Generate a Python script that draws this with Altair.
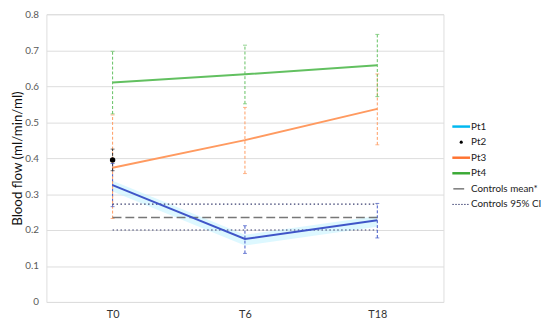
import altair as alt
import pandas as pd

times = ["T0", "T6", "T18"]

pt1 = [0.325, 0.175, 0.227]
pt1_lo = [0.265, 0.135, 0.178]
pt1_hi = [0.385, 0.212, 0.274]

pt2_time = ["T0"]
pt2 = [0.395]
pt2_lo = [0.365]
pt2_hi = [0.425]

pt3 = [0.373, 0.450, 0.537]
pt3_lo = [0.232, 0.357, 0.437]
pt3_hi = [0.520, 0.541, 0.634]

pt4 = [0.610, 0.633, 0.658]
pt4_lo = [0.523, 0.551, 0.571]
pt4_hi = [0.697, 0.714, 0.744]

ctrl_mean = 0.235
ctrl_ci = [0.200, 0.272]

y_ticks = [0, 0.1, 0.2, 0.3, 0.4, 0.5, 0.6, 0.7, 0.8]
legend_labels = ["Pt1", "Pt2", "Pt3", "Pt4", "Controls mean*", "Controls 95% CI"]

FONT = "Lato"
BLUE = "#4a6fdc"
CYAN = "#00b8f0"
ORANGE = "#ff7330"
GREEN = "#3aa935"

rows = []
for name, vals, lo, hi in [("Pt1", pt1, pt1_lo, pt1_hi), ("Pt3", pt3, pt3_lo, pt3_hi), ("Pt4", pt4, pt4_lo, pt4_hi)]:
    for t, v, l, h in zip(times, vals, lo, hi):
        rows.append({"series": name, "time": t, "value": v, "lo": l, "hi": h})
df = pd.DataFrame(rows)
df2 = pd.DataFrame({"series": "Pt2", "time": pt2_time, "value": pt2, "lo": pt2_lo, "hi": pt2_hi})
df_all = pd.concat([df, df2])

band_df = pd.DataFrame({"time": times, "lo": [v - 0.018 for v in pt1], "hi": [v + 0.012 for v in pt1]})

ctrl_df = pd.DataFrame({
    "kind": ["mean", "ci_lo", "ci_hi"],
    "y": [ctrl_mean, ctrl_ci[0], ctrl_ci[1]],
    "x": [times[0]] * 3,
    "x2": [times[-1]] * 3,
})

xscale = alt.Scale(type="point", domain=times, padding=0.5)
yscale = alt.Scale(domain=[0, 0.8], nice=False)

x_axis = alt.Axis(title=None, labelAngle=0, domain=False, ticks=False, grid=False,
                  labelFont=FONT, labelFontSize=11, labelColor="#333333", labelPadding=7)
y_axis = alt.Axis(title="Blood flow (ml/min/ml)", values=y_ticks, tickCount=9,
                  format="~g", domain=False, ticks=False, grid=True, gridColor="#dcdcdc",
                  labelOverlap=False,
                  labelFont=FONT, labelFontSize=10, labelColor="#595959", labelPadding=8,
                  titleFont=FONT, titleFontSize=13.5, titleFontWeight="normal", titleColor="#111111",
                  titleX=-29, titleY=146, titleAngle=-90, titleAlign="center", titleBaseline="middle")


def X(field="time:N"):
    return alt.X(field, scale=xscale, sort=times, axis=x_axis)


def Y(field):
    return alt.Y(field, scale=yscale, axis=y_axis)


series_dom = ["Pt1", "Pt2", "Pt3", "Pt4"]
line_col = alt.Color("series:N", scale=alt.Scale(domain=series_dom, range=[BLUE, "#000000", ORANGE, GREEN]), legend=None)
err_col = alt.Color("series:N", scale=alt.Scale(domain=series_dom, range=["#3f55c8", "#333333", "#ff9a60", "#62c060"]), legend=None)

band = alt.Chart(band_df).mark_area(color="#c6f4ff", opacity=0.6).encode(
    x=X(), y=Y("lo:Q"), y2="hi:Q")

base = alt.Chart(df_all)
err = base.mark_rule(strokeDash=[3, 2], strokeWidth=1).encode(
    x=X(), y=Y("lo:Q"), y2="hi:Q", color=err_col)
cap_lo = base.mark_tick(size=4, thickness=1, orient="horizontal").encode(
    x=X(), y=Y("lo:Q"), color=err_col)
cap_hi = base.mark_tick(size=4, thickness=1, orient="horizontal").encode(
    x=X(), y=Y("hi:Q"), color=err_col)

ctrl_base = alt.Chart(ctrl_df)
ctrl_mean_rule = ctrl_base.transform_filter(alt.datum.kind == "mean").mark_rule(
    color="#777777", strokeWidth=1.5, strokeDash=[9, 4]).encode(
    x=X("x:N"), x2="x2:N", y=Y("y:Q"))
ctrl_ci_rule = ctrl_base.transform_filter(alt.datum.kind != "mean").mark_rule(
    color="#3a3f70", strokeWidth=1.2, strokeDash=[1.5, 2.5]).encode(
    x=X("x:N"), x2="x2:N", y=Y("y:Q"))

lines = alt.Chart(df).mark_line(strokeWidth=2).encode(x=X(), y=Y("value:Q"), color=line_col, detail="series:N")
dot = alt.Chart(df2).mark_point(filled=True, size=30, color="#000000", opacity=1).encode(
    x=X(), y=Y("value:Q"))

# manual legend
leg_layers = []
lx0, lx1, tx = 412, 430, 431
y0, dy = 114, 15.8
styles = ["line", "dot", "line", "line", "short", "dotted"]
colors = [CYAN, "#000000", ORANGE, GREEN, "#777777", "#3a3f70"]
for i, (lab, kind, col) in enumerate(zip(legend_labels, styles, colors)):
    yy = y0 + i * dy
    src = alt.Chart(pd.DataFrame({"label": [lab]}))
    if kind == "line":
        leg_layers.append(src.mark_rule(color=col, strokeWidth=2.5).encode(
            x=alt.value(lx0), x2=alt.value(lx1), y=alt.value(yy)))
    elif kind == "dot":
        leg_layers.append(src.mark_circle(color=col, size=10, opacity=1).encode(
            x=alt.value((lx0 + lx1) / 2), y=alt.value(yy)))
    elif kind == "short":
        leg_layers.append(src.mark_rule(color=col, strokeWidth=1.5).encode(
            x=alt.value(lx0 + 1), x2=alt.value(lx0 + 12), y=alt.value(yy)))
    else:
        leg_layers.append(src.mark_rule(color=col, strokeWidth=1, strokeDash=[1.5, 1.5]).encode(
            x=alt.value(lx0), x2=alt.value(lx1), y=alt.value(yy)))
    leg_layers.append(src.mark_text(align="left", baseline="middle", font=FONT, fontSize=10,
                                    color="#222222").encode(
        x=alt.value(tx), y=alt.value(yy), text="label:N"))

chart = alt.layer(band, err, cap_lo, cap_hi, ctrl_mean_rule, ctrl_ci_rule, lines, dot, *leg_layers).properties(
    width=403, height=292,
    autosize=alt.AutoSizeParams(type="none"),
    padding={"left": 39, "top": 4, "right": 100, "bottom": 18},
).configure_view(stroke=None).configure(background="white")

chart.save("out.html", embed_options={"renderer": "svg", "actions": False})
